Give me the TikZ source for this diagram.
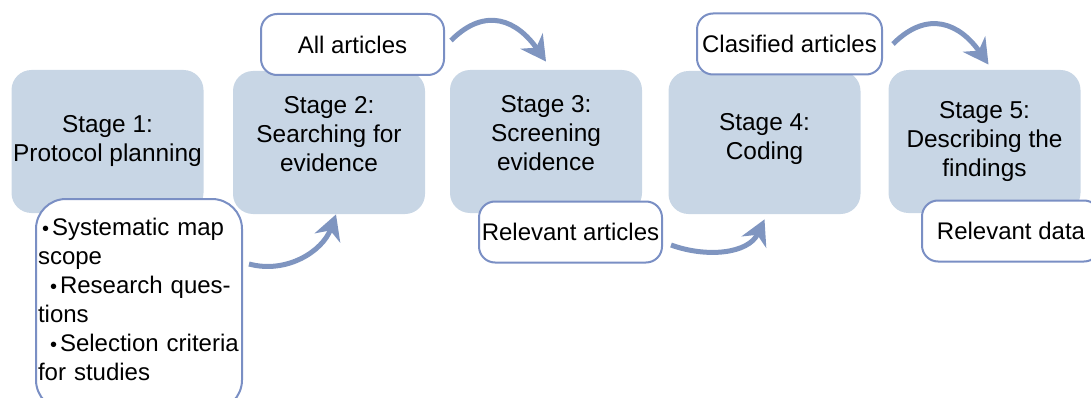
\documentclass[tikz,border=0pt]{standalone}
\usepackage{fontspec}
\setmainfont{Liberation Sans}
\usetikzlibrary{positioning,arrows.meta}
\definecolor{stagefill}{HTML}{C8D6E5}
\definecolor{edgeblue}{HTML}{7A8FC4}
\definecolor{flowblue}{HTML}{7F95C0}
\newcommand{\dotmark}{\hspace*{2pt}{\fontsize{10}{10}\selectfont\textbullet}\hspace{1.5pt}}

\begin{document}
\begin{tikzpicture}[x=0.5pt, y=0.5pt,
    stagebox/.style={fill=stagefill, minimum width=96pt, minimum height=71.5pt, align=center, rounded corners=10pt, inner sep=0pt, font=\fontsize{12.2}{14.5}\selectfont},
    outbox/.style={draw=edgeblue, line width=1pt, fill=white, minimum height=30.5pt, align=center, rounded corners=8pt, inner sep=0pt, font=\fontsize{12}{14}\selectfont},
    flow/.style={-{Stealth[length=12.5pt, width=13.5pt, inset=4pt]}, line width=2.5pt, color=flowblue},
]
\useasboundingbox (0,0) rectangle (1091,397);
\clip (0,0) rectangle (1091,397);

\node[stagebox] (S1) at (107.5,255.5) {Stage 1:\\Protocol planning};
\node[stagebox, text depth=9pt] (S2) at (329,254.5) {Stage 2:\\Searching for\\evidence};
\node[stagebox, text depth=9pt] (S3) at (546,255.5) {Stage 3:\\Screening\\evidence};
\node[stagebox, text depth=6.5pt] (S4) at (764.5,254.5) {Stage 4:\\Coding};
\node[stagebox] (S5) at (984.5,255.5) {Stage 5:\\Describing the\\findings};

\node[outbox, minimum width=91.5pt] (ALL) at (352.5,352.5) {All articles};
\node[outbox, minimum width=92.5pt] (CLS) at (789.5,353) {Clasified articles};
\node[outbox, minimum width=91.5pt] (REL) at (570.5,165) {Relevant articles};
\node[outbox, minimum width=89pt] (DATA) at (1011,166) {Relevant data};
\node[outbox, rounded corners=15pt, minimum height=105.5pt, text width=101pt, inner xsep=1pt, align=left, font=\fontsize{12}{14.5}\selectfont] (SCOPE) at (139,92.5)
    {\dotmark Systematic map\\scope\\\hspace*{4pt}\dotmark Research ques-\\tions\\\hspace*{4pt}\dotmark Selection criteria\\for studies\rule[-5pt]{0pt}{5pt}};

\draw[flow] ([xshift=3pt, yshift=-33pt]SCOPE.north east) to[out=-15, in=-110] ([xshift=3.5pt]S2.south);
\draw[flow] ([xshift=3pt, yshift=2pt]ALL.east) to[out=45, in=125, looseness=1.3] ([yshift=4pt]S3.north);
\draw[flow] ([xshift=4pt, yshift=-6.5pt]REL.east) to[out=-20, in=-115] ([yshift=-2.5pt]S4.south);
\draw[flow] ([xshift=5pt]CLS.east) to[out=45, in=125, looseness=1.3] ([xshift=2pt, yshift=2.5pt]S5.north);
\end{tikzpicture}
\end{document}
